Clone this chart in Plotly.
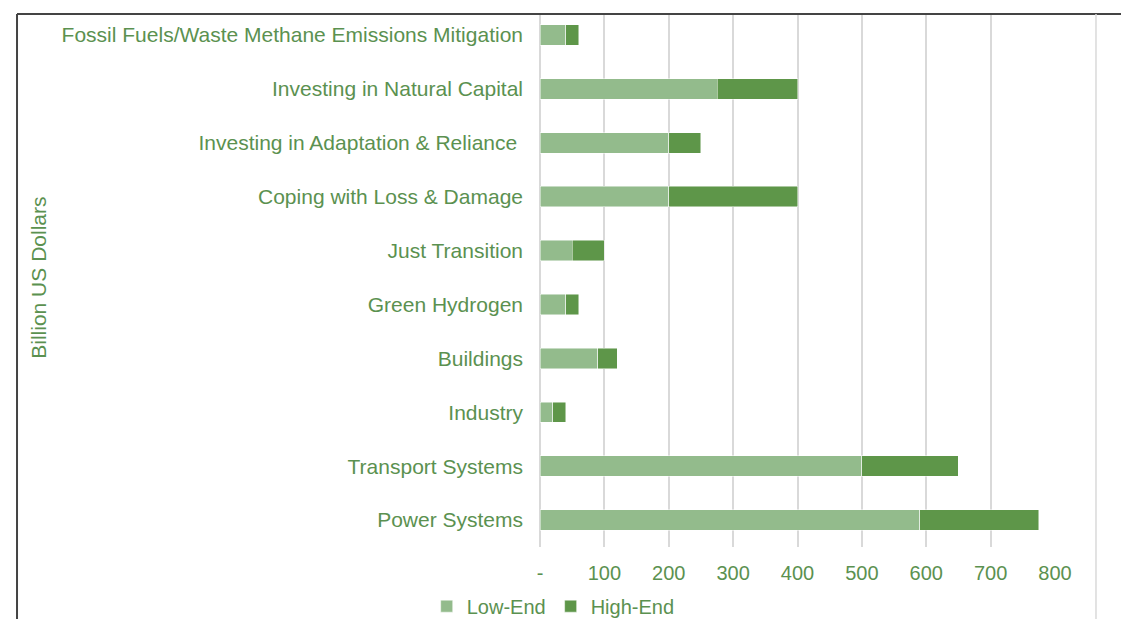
import plotly.graph_objects as go

# Categories listed top-to-bottom as displayed
categories = [
    "Fossil Fuels/Waste Methane Emissions Mitigation",
    "Investing in Natural Capital",
    "Investing in Adaptation & Reliance\u00a0",
    "Coping with Loss & Damage",
    "Just Transition",
    "Green Hydrogen",
    "Buildings",
    "Industry",
    "Transport Systems",
    "Power Systems",
]
# Billion US dollars
low_end = [40, 275, 200, 200, 50, 40, 90, 20, 500, 590]
high_end = [60, 400, 250, 400, 100, 60, 120, 40, 650, 775]
high_increment = [h - l for h, l in zip(high_end, low_end)]

tick_vals = [0, 100, 200, 300, 400, 500, 600, 700, 800]
tick_text = ["-", "100", "200", "300", "400", "500", "600", "700", "800"]

LIGHT = "#93bb8c"
DARK = "#5e9649"
TEXT = "#5b9150"
GRID = "#d9d9d9"
FONT = "Liberation Sans, Arial, Helvetica, sans-serif"

fig = go.Figure()
fig.add_trace(go.Bar(
    y=categories, x=low_end, name="Low-End", orientation="h",
    marker=dict(color=LIGHT, line=dict(color="rgba(255,255,255,0.6)", width=0.8)),
    width=0.38,
))
fig.add_trace(go.Bar(
    y=categories, x=high_increment, name="High-End", orientation="h",
    marker=dict(color=DARK, line=dict(color="rgba(255,255,255,0.6)", width=0.8)),
    width=0.38,
))

fig.update_layout(
    width=1121, height=619,
    barmode="stack",
    paper_bgcolor="white", plot_bgcolor="white",
    margin=dict(l=540, r=66, t=14, b=72, pad=0, autoexpand=False),
    font=dict(family=FONT, size=20, color=TEXT),
    showlegend=True,
    legend=dict(
        orientation="h", x=-0.22, y=-0.111, xanchor="left", yanchor="middle",
        font=dict(size=20, color=TEXT), itemwidth=30, traceorder="normal",
        bgcolor="rgba(0,0,0,0)", borderwidth=0,
    ),
    xaxis=dict(
        range=[0, 800], tickvals=tick_vals, ticktext=tick_text,
        showgrid=True, gridcolor=GRID, gridwidth=1.5,
        zeroline=True, zerolinecolor=GRID, zerolinewidth=1.5,
        showline=False, ticks="", ticklabelstandoff=12,
        tickfont=dict(size=20, color=TEXT), fixedrange=True,
    ),
    yaxis=dict(
        type="category", categoryorder="array", categoryarray=categories,
        range=[9.5, -0.389],
        showgrid=False, zeroline=False, showline=False, ticks="",
        ticklabelstandoff=16, tickfont=dict(size=21, color=TEXT), fixedrange=True,
    ),
    annotations=[dict(
        text="Billion US Dollars", textangle=-90, xref="paper", yref="paper",
        x=-0.973, y=0.505, xanchor="center", yanchor="middle", showarrow=False,
        font=dict(size=21, color=TEXT, family=FONT),
    )],
    shapes=[
        dict(type="line", xref="paper", yref="paper", x0=-1.0155, x1=-1.0155,
             y0=1.0, y1=-0.2, line=dict(color="#444444", width=2)),
        dict(type="line", xref="paper", yref="paper", x0=-1.0155, x1=1.2,
             y0=1.0, y1=1.0, line=dict(color="#444444", width=2)),
        dict(type="line", xref="paper", yref="paper", x0=1.0796, x1=1.0796,
             y0=1.0, y1=-0.2, line=dict(color=GRID, width=1.5)),
    ],
)

fig.write_html("out.html")
